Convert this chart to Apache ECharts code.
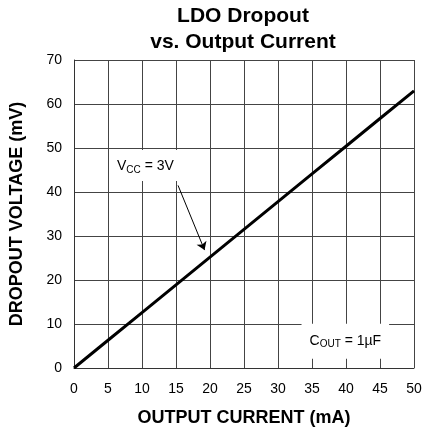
<!DOCTYPE html>
<html>
<head>
<meta charset="utf-8">
<script src="https://cdn.jsdelivr.net/npm/echarts@6/dist/echarts.min.js"></script>
<style>
  html, body { margin: 0; padding: 0; background: #fff; }
  #chart { width: 437px; height: 433px; }
</style>
</head>
<body>
<div id="chart"></div>
<script>
// output current (mA) vs dropout voltage (mV)
const currentMA = [0, 5, 10, 15, 20, 25, 30, 35, 40, 45, 50];
const dropoutMV = [0, 6.3, 12.6, 18.9, 25.2, 31.5, 37.8, 44.1, 50.4, 56.7, 63];

// annotation anchors in data units
const vccLabelAt = [10.5, 46];
const vccArrow = [[15.3, 41.5], [19.2, 26.8]];
const coutLabelAt = [39.9, 6.1];

const font = 'Liberation Sans, Arial, sans-serif';

const chart = echarts.init(document.getElementById('chart'));

const subStyle = {
  fontFamily: font,
  fontSize: 10,
  color: '#000',
  verticalAlign: 'bottom',
  padding: [7, 0, 0, 0],
};

const option = {
  animation: false,
  title: {
    text: 'LDO Dropout\nvs. Output Current',
    left: 238,
    textAlign: 'center',
    top: -2,
    textStyle: {
      fontFamily: font,
      fontSize: 21,
      fontWeight: 'bold',
      color: '#000',
      lineHeight: 26,
    },
  },
  grid: {
    left: 72,
    right: 23,
    top: 60,
    bottom: 65,
  },
  xAxis: {
    type: 'value',
    min: 0,
    max: 50,
    interval: 5,
    name: 'OUTPUT CURRENT (mA)',
    nameLocation: 'middle',
    nameGap: 41,
    nameTextStyle: { fontFamily: font, fontSize: 18, fontWeight: 'bold', color: '#000' },
    axisLine: { lineStyle: { color: '#333', width: 1 } },
    axisTick: { show: false },
    axisLabel: { fontFamily: font, fontSize: 14, color: '#000', margin: 14 },
    splitLine: { show: true, lineStyle: { color: '#444', width: 1 } },
  },
  yAxis: {
    type: 'value',
    min: 0,
    max: 70,
    interval: 10,
    name: 'DROPOUT VOLTAGE (mV)',
    nameLocation: 'middle',
    nameGap: 48,
    nameTextStyle: { fontFamily: font, fontSize: 18, fontWeight: 'bold', color: '#000' },
    axisLine: { show: true, lineStyle: { color: '#333', width: 1 } },
    axisTick: { show: false },
    axisLabel: { fontFamily: font, fontSize: 14, color: '#000', margin: 12 },
    splitLine: { show: true, lineStyle: { color: '#444', width: 1 } },
  },
  series: [
    {
      type: 'line',
      data: currentMA.map((x, i) => [x, dropoutMV[i]]),
      symbol: 'none',
      lineStyle: { color: '#000', width: 3 },
      z: 3,
      markLine: {
        silent: true,
        symbol: ['none', 'arrow'],
        symbolSize: 8,
        lineStyle: { color: '#000', width: 1, type: 'solid' },
        label: { show: false },
        data: [[{ coord: vccArrow[0] }, { coord: vccArrow[1] }]],
      },
      markPoint: {
        silent: true,
        symbol: 'rect',
        symbolSize: 0,
        data: [
          {
            coord: vccLabelAt,
            label: {
              show: true,
              position: 'inside',
              formatter: 'V{s|CC} = 3V',
              fontFamily: font,
              fontSize: 14,
              color: '#000',
              backgroundColor: '#fff',
              padding: [8, 5, 6, 5],
              rich: { s: subStyle },
            },
          },
          {
            coord: coutLabelAt,
            label: {
              show: true,
              position: 'inside',
              formatter: 'C{s|OUT} = 1µF',
              fontFamily: font,
              fontSize: 14,
              color: '#000',
              backgroundColor: '#fff',
              padding: [9, 8, 9, 8],
              rich: { s: subStyle },
            },
          },
        ],
      },
    },
  ],
};

chart.setOption(option);
</script>
</body>
</html>
